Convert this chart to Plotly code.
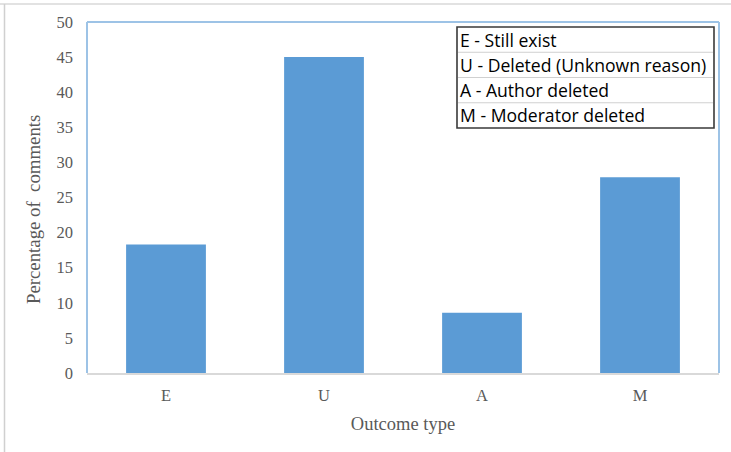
import plotly.graph_objects as go

# Share of comments by outcome type
categories = ["E", "U", "A", "M"]
percentages = [18.3, 45.0, 8.6, 27.9]
legend_lines = [
    "E - Still exist",
    "U - Deleted (Unknown reason)",
    "A - Author deleted",
    "M - Moderator deleted",
]

W, H = 731, 452
L, T, R, B = 87, 22, 12, 79
pw, ph = W - L - R, H - T - B


def px(x):
    return (x - L) / pw


def py(y):
    return (H - B - y) / ph


fig = go.Figure(
    go.Bar(
        x=categories,
        y=percentages,
        marker=dict(color="#5b9bd5", line=dict(width=0)),
        width=0.505,
        hoverinfo="x+y",
    )
)

serif = "Liberation Serif"
sans = "Open Sans"

shapes = [
    # outer frame lines
    dict(type="line", xref="paper", yref="paper", x0=px(0), x1=px(W), y0=py(4), y1=py(4),
         line=dict(color="#d9d9d9", width=1.5)),
    dict(type="line", xref="paper", yref="paper", x0=px(4.5), x1=px(4.5), y0=py(4), y1=py(H),
         line=dict(color="#d0d0d0", width=1.5)),
    # plot-area border (left, top, right)
    dict(type="line", xref="paper", yref="paper", x0=0, x1=0, y0=0, y1=1,
         line=dict(color="#9dc3e6", width=2)),
    dict(type="line", xref="paper", yref="paper", x0=0, x1=1, y0=1, y1=1,
         line=dict(color="#9dc3e6", width=2)),
    dict(type="line", xref="paper", yref="paper", x0=1, x1=1, y0=0, y1=1,
         line=dict(color="#9dc3e6", width=2)),
    # key box
    dict(type="rect", xref="paper", yref="paper", x0=px(457), x1=px(714), y0=py(128), y1=py(27),
         line=dict(color="#3a3a3a", width=1.6), fillcolor="white"),
]

annotations = []
row_top = 27
row_h = 25.25
for i, txt in enumerate(legend_lines):
    if i > 0:
        yy = row_top + i * row_h
        shapes.append(dict(type="line", xref="paper", yref="paper", x0=px(458), x1=px(713),
                           y0=py(yy), y1=py(yy), line=dict(color="#d0d0d0", width=1)))
    annotations.append(dict(
        xref="paper", yref="paper", x=px(458), y=py(row_top + i * row_h + row_h / 2),
        xanchor="left", yanchor="middle", text=txt, showarrow=False,
        font=dict(family=sans, size=17.6, color="#000000"),
    ))

# y-axis title placed as rotated text
annotations.append(dict(
    xref="paper", yref="paper", x=px(33), y=py(210),
    xanchor="center", yanchor="middle", textangle=-90,
    text="Percentage of  comments", showarrow=False,
    font=dict(family=serif, size=18.8, color="#595959"),
))

fig.update_layout(
    width=W,
    height=H,
    margin=dict(l=L, r=R, t=T, b=B),
    paper_bgcolor="white",
    plot_bgcolor="white",
    showlegend=False,
    shapes=shapes,
    annotations=annotations,
    xaxis=dict(
        showgrid=False,
        showline=True,
        linecolor="#d9d9d9",
        linewidth=1.5,
        ticks="",
        ticklabelstandoff=6,
        tickfont=dict(family=serif, size=16.5, color="#595959"),
        title=dict(text="Outcome type", font=dict(family=serif, size=18.5, color="#595959"), standoff=14),
    ),
    yaxis=dict(
        range=[0, 50],
        dtick=5,
        showgrid=False,
        showline=False,
        zeroline=False,
        ticks="",
        ticklabelstandoff=13,
        tickfont=dict(family=serif, size=16.5, color="#595959"),
    ),
)

fig.write_html("out.html")
